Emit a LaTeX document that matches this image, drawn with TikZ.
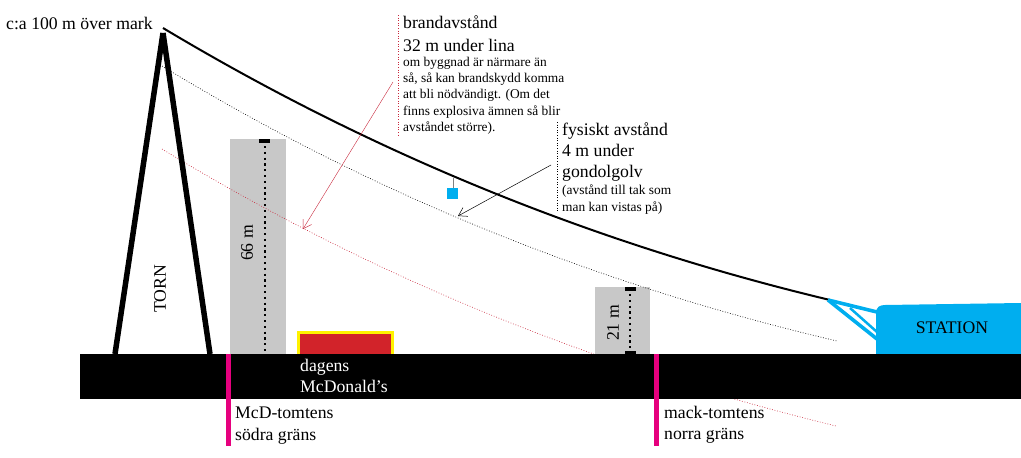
\documentclass[tikz,border=0pt]{standalone}
\usepackage{fontspec}
\setmainfont{Liberation Serif}
\usetikzlibrary{arrows}
\usetikzlibrary{arrows.meta}
\usetikzlibrary{calc}
\definecolor{stationblue}{HTML}{00AEEF}
\definecolor{plotmagenta}{HTML}{E6007E}
\definecolor{mcdred}{HTML}{D2232A}
\definecolor{mcdyellow}{HTML}{FFF200}
\definecolor{buildgrey}{HTML}{C8C8C8}
\definecolor{firered}{HTML}{C8283C}
\begin{document}
\begin{tikzpicture}[
    x=1pt, y=-1pt,
    cable/.style={line width=2pt},
    tower leg/.style={line width=5.5pt},
    height line/.style={line width=2.2pt, dash pattern=on 2.2pt off 3.6pt},
    height tick/.style={line width=4pt},
    limit line/.style={line width=0.6pt, dash pattern=on 0.8pt off 1.8pt},
    border line/.style={plotmagenta, line width=5.5pt},
    building/.style={fill=buildgrey},
    open tip/.style={-{Straight Barb[length=8pt,width=10pt]}},
    big text/.style={anchor=north west, inner sep=0pt, align=left, font=\fontsize{17.7}{21.3}\selectfont},
    small text/.style={anchor=north west, inner sep=0pt, align=left, font=\fontsize{13.4}{16.2}\selectfont},
    every node/.style={color=black}
    ]
    \useasboundingbox (0,0) rectangle (1021,458);

    % define cable ends
    \coordinate (top) at (163,28);
    \coordinate (end) at (830,300);
    \coordinate (foot a) at (115,354);
    \coordinate (foot b) at (210,354);
    \coordinate (fire from) at (393,82);
    \coordinate (fire to) at (303,229);
    \coordinate (gap from) at (551,165);
    \coordinate (gap to) at (458,216);

    % grey buildings and the red limit
    \fill[building] (230,139) rectangle (286,354);
    \draw[limit line,firered] (162,149) .. controls (384,284) and (607,370) .. (836,426);
    \fill[building] (595,287) rectangle (650,354);
    \draw[height line] (265,146) -- (265,352);
    \draw[height tick] (259,140.5) -- (270,140.5);
    \draw[height line] (630,294) -- (630,350);
    \draw[height tick] (625,288.5) -- (636,288.5);
    \draw[height tick] (625,352.5) -- (636,352.5);
    \node[rotate=90, font=\fontsize{17.7}{20}\selectfont] (tall) at (247,243) {66 m};
    \node[rotate=90, font=\fontsize{17.7}{20}\selectfont] (low) at (613,323) {21 m};

    % tower
    \draw[tower leg] (163,33) -- (foot a);
    \draw[tower leg] (163,33) -- (foot b);
    \node[rotate=90, font=\fontsize{17.7}{20}\selectfont] (torn) at (160,289) {TORN};

    % cable and black limit
    \draw[limit line] (162,66) .. controls (384,201) and (607,287) .. (837,341);
    \draw[cable] (top) .. controls (385,161) and (608,247) .. (end);

    % gondola
    \draw[gray, line width=0.4pt] (453,178) -- (453,188);
    \fill[stationblue] (447,188) rectangle (458,199);

    % station
    \fill[stationblue] (876,354) -- (876,313) .. controls (876,307) and (880,305) .. (885,305) -- (1021,303) -- (1021,354) -- cycle;
    \draw[stationblue, line width=3.6pt] (828,300) -- (877,312);
    \draw[stationblue, line width=3.6pt] (828,300) -- (877,339);
    \draw[stationblue, line width=2.5pt] (850,308) -- (877,332);
    \node[font=\fontsize{17.7}{20}\selectfont] (station) at (952,328) {STATION};

    % today's restaurant
    \fill[mcdyellow] (297,331) rectangle (394,354);
    \fill[mcdred] (300,334) rectangle (391,354);

    % ground
    \fill[black] (80,354) rectangle (1021,399);
    \draw[border line] (228.5,354) -- (228.5,446);
    \draw[border line] (656.5,354) -- (656.5,446);

    % labels
    \node[big text, text=white] (mcd) at (300,359) {dagens\\McDonald’s};
    \node[big text] (south) at (235,407) {McD-tomtens\\södra gräns};
    \node[big text] (north) at (664,406) {mack-tomtens\\norra gräns};
    \node[big text, anchor=west] (high) at (6,23) {c:a 100 m över mark};

    % distances
    \draw[limit line,firered] (398,15) -- (398,137);
    \draw[firered, open tip] (fire from) -- (fire to);
    \node[big text, font=\fontsize{17.7}{23}\selectfont] (brand) at (403,15) {brandavstånd\\32 m under lina};
    \node[small text] (brand note) at (403,57) {om byggnad är närmare än\\så, så kan brandskydd komma\\att bli nödvändigt. (Om det\\finns explosiva ämnen så blir\\avståndet större).};
    \draw[limit line] (557,122) -- (557,212);
    \draw[open tip, line width=0.5pt] (gap from) -- (gap to);
    \node[big text] (gap) at (562,122) {fysiskt avstånd\\4 m under\\gondolgolv};
    \node[small text] (gap note) at (562,185) {(avstånd till tak som\\man kan vistas på)};
\end{tikzpicture}
\end{document}
